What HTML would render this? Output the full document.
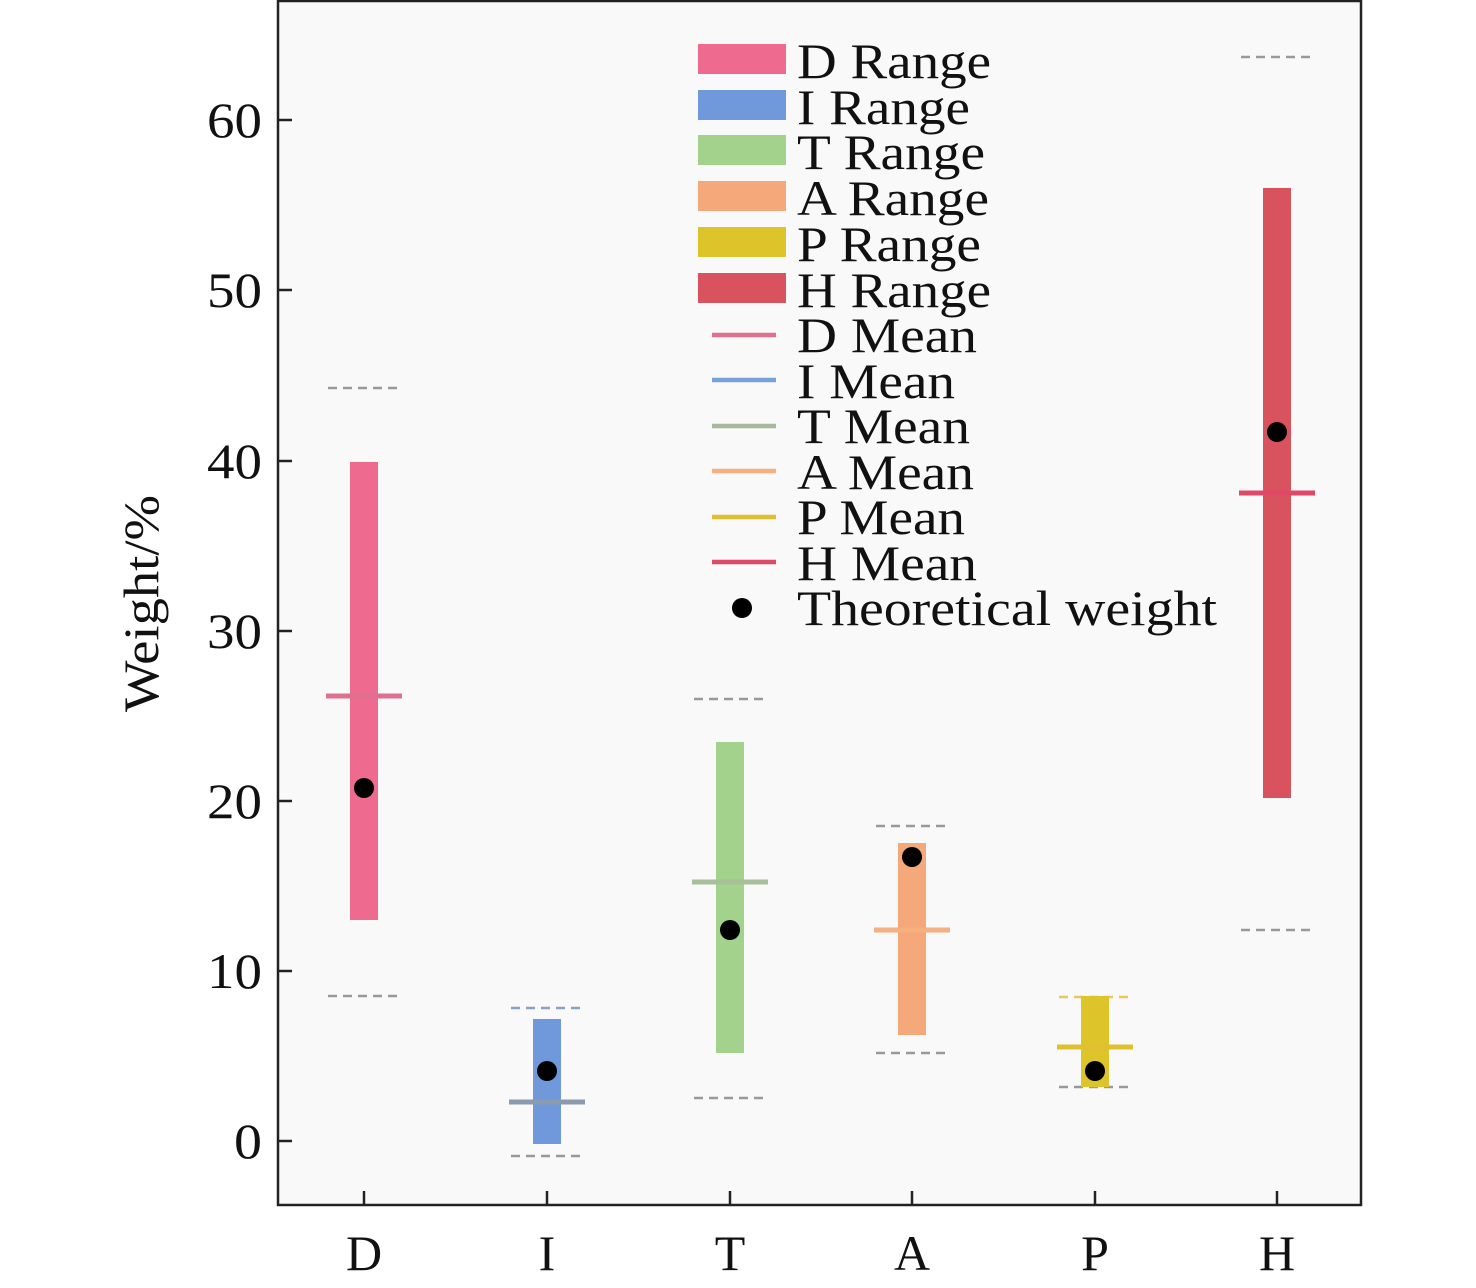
<!DOCTYPE html>
<html><head><style>body{margin:0;background:#fff}svg{display:block}</style></head><body>
<svg width="1476" height="1288" viewBox="0 0 1476 1288" xmlns="http://www.w3.org/2000/svg" font-family="Liberation Serif, serif">
<rect width="1476" height="1288" fill="#fff"/>
<rect x="278" y="1" width="1083" height="1204" fill="#f9f9f9" stroke="#222" stroke-width="2.5"/>
<g stroke="#222" stroke-width="2.5">
<line x1="278" y1="1141" x2="292" y2="1141"/><line x1="278" y1="971" x2="292" y2="971"/><line x1="278" y1="801" x2="292" y2="801"/><line x1="278" y1="631" x2="292" y2="631"/><line x1="278" y1="461" x2="292" y2="461"/><line x1="278" y1="290" x2="292" y2="290"/><line x1="278" y1="120" x2="292" y2="120"/>
<line x1="364" y1="1205" x2="364" y2="1191"/><line x1="547" y1="1205" x2="547" y2="1191"/><line x1="730" y1="1205" x2="730" y2="1191"/><line x1="912" y1="1205" x2="912" y2="1191"/><line x1="1095" y1="1205" x2="1095" y2="1191"/><line x1="1277" y1="1205" x2="1277" y2="1191"/>
</g>
<g font-size="50" fill="#111">
<text x="234" y="1158" textLength="28" lengthAdjust="spacingAndGlyphs">0</text>
<text x="207" y="988" textLength="55" lengthAdjust="spacingAndGlyphs">10</text>
<text x="207" y="818" textLength="55" lengthAdjust="spacingAndGlyphs">20</text>
<text x="207" y="648" textLength="55" lengthAdjust="spacingAndGlyphs">30</text>
<text x="207" y="478" textLength="55" lengthAdjust="spacingAndGlyphs">40</text>
<text x="207" y="307" textLength="55" lengthAdjust="spacingAndGlyphs">50</text>
<text x="207" y="137" textLength="55" lengthAdjust="spacingAndGlyphs">60</text>
</g>
<g font-size="50" fill="#111" text-anchor="middle">
<text x="364" y="1270">D</text><text x="547" y="1270">I</text><text x="730" y="1270">T</text><text x="912" y="1270">A</text><text x="1095" y="1270">P</text><text x="1277" y="1270">H</text>
</g>
<text transform="translate(158,712) rotate(-90)" font-size="50" fill="#111" textLength="217" lengthAdjust="spacingAndGlyphs">Weight/%</text>
<g stroke="#999" stroke-width="2.5" stroke-dasharray="9,6">
<line x1="328" y1="388" x2="400" y2="388"/><line x1="328" y1="996" x2="400" y2="996"/>
<line x1="511" y1="1008" x2="583" y2="1008" stroke="#8aa0c8"/><line x1="511" y1="1156" x2="583" y2="1156"/>
<line x1="694" y1="699" x2="766" y2="699"/><line x1="694" y1="1098" x2="766" y2="1098"/>
<line x1="876" y1="826" x2="948" y2="826"/><line x1="876" y1="1053" x2="948" y2="1053"/>
<line x1="1059" y1="997" x2="1131" y2="997" stroke="#e8c860"/><line x1="1059" y1="1087" x2="1131" y2="1087"/>
<line x1="1241" y1="57" x2="1313" y2="57"/><line x1="1241" y1="930" x2="1313" y2="930"/>
</g>
<rect x="350" y="462" width="28" height="458" fill="#ee6a8f"/>
<rect x="533" y="1019" width="28" height="125" fill="#7099db"/>
<rect x="716" y="742" width="28" height="311" fill="#a2d28c"/>
<rect x="898" y="843" width="28" height="192" fill="#f5a97a"/>
<rect x="1081" y="996" width="28" height="91" fill="#dcc42a"/>
<rect x="1263" y="188" width="28" height="610" fill="#d9535f"/>
<g stroke-width="5">
<line x1="326" y1="696" x2="402" y2="696" stroke="#e07090"/>
<line x1="509" y1="1102" x2="585" y2="1102" stroke="#8a9bb0"/>
<line x1="692" y1="882" x2="768" y2="882" stroke="#a8c09a"/>
<line x1="874" y1="930" x2="950" y2="930" stroke="#f4b07e"/>
<line x1="1057" y1="1047" x2="1133" y2="1047" stroke="#e0c030"/>
<line x1="1239" y1="493" x2="1315" y2="493" stroke="#e04868"/>
</g>
<g fill="#000">
<circle cx="364" cy="788" r="10"/><circle cx="547" cy="1071" r="10"/><circle cx="730" cy="930" r="10"/><circle cx="912" cy="857" r="10"/><circle cx="1095" cy="1071" r="10"/><circle cx="1277" cy="432" r="10"/>
</g>
<rect x="698" y="44" width="88" height="30" fill="#ee6a8f"/>
<rect x="698" y="90" width="88" height="30" fill="#7099db"/>
<rect x="698" y="135" width="88" height="30" fill="#a2d28c"/>
<rect x="698" y="181" width="88" height="30" fill="#f5a97a"/>
<rect x="698" y="227" width="88" height="30" fill="#dcc42a"/>
<rect x="698" y="273" width="88" height="30" fill="#d9535f"/>
<g stroke-width="4.5">
<line x1="712" y1="335" x2="776" y2="335" stroke="#e07090"/>
<line x1="712" y1="380" x2="776" y2="380" stroke="#7aa0d8"/>
<line x1="712" y1="426" x2="776" y2="426" stroke="#a8b89a"/>
<line x1="712" y1="471" x2="776" y2="471" stroke="#f4b07e"/>
<line x1="712" y1="517" x2="776" y2="517" stroke="#e0c030"/>
<line x1="712" y1="562" x2="776" y2="562" stroke="#e04868"/>
</g>
<circle cx="742" cy="608" r="10" fill="#000"/>
<g font-size="50" fill="#111" lengthAdjust="spacingAndGlyphs">
<text x="797" y="78" textLength="194" lengthAdjust="spacingAndGlyphs">D Range</text>
<text x="797" y="124" textLength="173" lengthAdjust="spacingAndGlyphs">I Range</text>
<text x="797" y="169" textLength="188" lengthAdjust="spacingAndGlyphs">T Range</text>
<text x="797" y="215" textLength="192" lengthAdjust="spacingAndGlyphs">A Range</text>
<text x="797" y="261" textLength="184" lengthAdjust="spacingAndGlyphs">P Range</text>
<text x="797" y="307" textLength="194" lengthAdjust="spacingAndGlyphs">H Range</text>
<text x="797" y="352" textLength="180" lengthAdjust="spacingAndGlyphs">D Mean</text>
<text x="797" y="398" textLength="158" lengthAdjust="spacingAndGlyphs">I Mean</text>
<text x="797" y="443" textLength="173" lengthAdjust="spacingAndGlyphs">T Mean</text>
<text x="797" y="489" textLength="177" lengthAdjust="spacingAndGlyphs">A Mean</text>
<text x="797" y="534" textLength="168" lengthAdjust="spacingAndGlyphs">P Mean</text>
<text x="797" y="580" textLength="180" lengthAdjust="spacingAndGlyphs">H Mean</text>
<text x="797" y="625" textLength="420" lengthAdjust="spacingAndGlyphs">Theoretical weight</text>
</g>
</svg>
</body></html>
